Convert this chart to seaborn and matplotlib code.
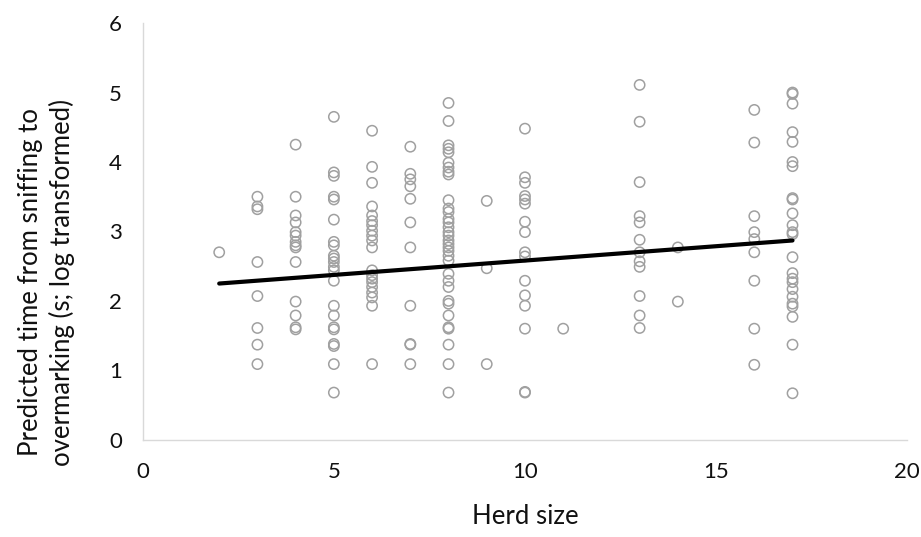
import matplotlib
matplotlib.use("Agg")
import matplotlib.pyplot as plt
import seaborn as sns
import pandas as pd

# ==== data (log-transformed time per herd size) ====
herd_2 = [2.70]
herd_3 = [3.50, 3.36, 3.32, 2.56, 2.07, 1.61, 1.37, 1.09]
herd_4 = [4.25, 3.50, 3.23, 3.13, 2.99, 2.94, 2.85, 2.80, 2.77, 2.56, 1.99, 1.79, 1.62, 1.59]
herd_5 = [4.65, 3.85, 3.80, 3.50, 3.46, 3.17, 2.85, 2.80, 2.65, 2.61, 2.56, 2.49, 2.44,
          2.29, 1.93, 1.79, 1.62, 1.59, 1.38, 1.35, 1.09, 0.68]
herd_6 = [4.45, 3.93, 3.70, 3.36, 3.23, 3.15, 3.09, 3.01, 2.94, 2.87, 2.77, 2.44, 2.37,
          2.32, 2.27, 2.20, 2.12, 2.05, 1.93, 1.09]
herd_7 = [4.22, 3.83, 3.75, 3.65, 3.47, 3.13, 2.77, 1.93, 1.38, 1.37, 1.09]
herd_8 = [4.85, 4.59, 4.24, 4.19, 4.14, 3.99, 3.92, 3.86, 3.82, 3.45, 3.33, 3.28, 3.18,
          3.13, 3.06, 2.99, 2.94, 2.87, 2.82, 2.77, 2.72, 2.65, 2.58, 2.39, 2.29, 2.20,
          2.00, 1.96, 1.79, 1.62, 1.60, 1.37, 1.09, 0.68]
herd_9 = [3.44, 2.47, 1.09]
herd_10 = [4.48, 3.78, 3.70, 3.51, 3.46, 3.40, 3.14, 2.99, 2.70, 2.64, 2.29, 2.08, 1.93,
           1.60, 0.68, 0.69]
herd_11 = [1.60]
herd_13 = [5.11, 4.58, 3.71, 3.22, 3.13, 2.88, 2.70, 2.57, 2.49, 2.07, 1.79, 1.61]
herd_14 = [2.77, 1.99]
herd_16 = [4.75, 4.28, 3.22, 2.99, 2.89, 2.70, 2.29, 1.60, 1.08]
herd_17 = [5.00, 4.98, 4.84, 4.43, 4.29, 4.00, 3.94, 3.48, 3.46, 3.26, 3.09, 2.99, 2.96,
           2.63, 2.40, 2.32, 2.27, 2.17, 2.06, 1.96, 1.92, 1.77, 1.37, 0.67]

# predicted trend line endpoints
line_x = [2, 17]
line_y = [2.25, 2.87]

groups = {2: herd_2, 3: herd_3, 4: herd_4, 5: herd_5, 6: herd_6, 7: herd_7, 8: herd_8,
          9: herd_9, 10: herd_10, 11: herd_11, 13: herd_13, 14: herd_14, 16: herd_16,
          17: herd_17}
rows = [(k, v) for k, vals in groups.items() for v in vals]
df = pd.DataFrame(rows, columns=["herd", "time"])

sns.set_style("white")
plt.rcParams["font.family"] = ["Lato", "DejaVu Sans"]

fig = plt.figure(figsize=(9.21, 5.37), dpi=100)
ax = fig.add_axes([0.155, 0.181, 0.83, 0.776])

sns.scatterplot(data=df, x="herd", y="time", ax=ax, s=55, marker="o",
                facecolor="none", edgecolor="#a0a0a0", linewidth=1.1, zorder=2)
sns.lineplot(x=line_x, y=line_y, ax=ax, color="black", linewidth=3, zorder=3)

ax.set_xlim(0, 20)
ax.set_ylim(0, 6)
ax.set_xticks([0, 5, 10, 15, 20])
ax.set_yticks([0, 1, 2, 3, 4, 5, 6])
ax.tick_params(axis="both", length=0, labelsize=16, colors="#111111")
ax.tick_params(axis="x", pad=16)
ax.tick_params(axis="y", pad=15)

for side in ["top", "right"]:
    ax.spines[side].set_visible(False)
for side in ["left", "bottom"]:
    ax.spines[side].set_color("#d9d9d9")
    ax.spines[side].set_linewidth(1)

ax.set_xlabel("Herd size", fontsize=18.5, labelpad=16, color="#111111")
ax.set_ylabel("Predicted time from sniffing to\novermarking (s; log transformed)",
              fontsize=18.5, color="#111111", linespacing=1.3)
ax.yaxis.set_label_coords(-0.088, 0.378)

fig.savefig("out.png", dpi=100)
